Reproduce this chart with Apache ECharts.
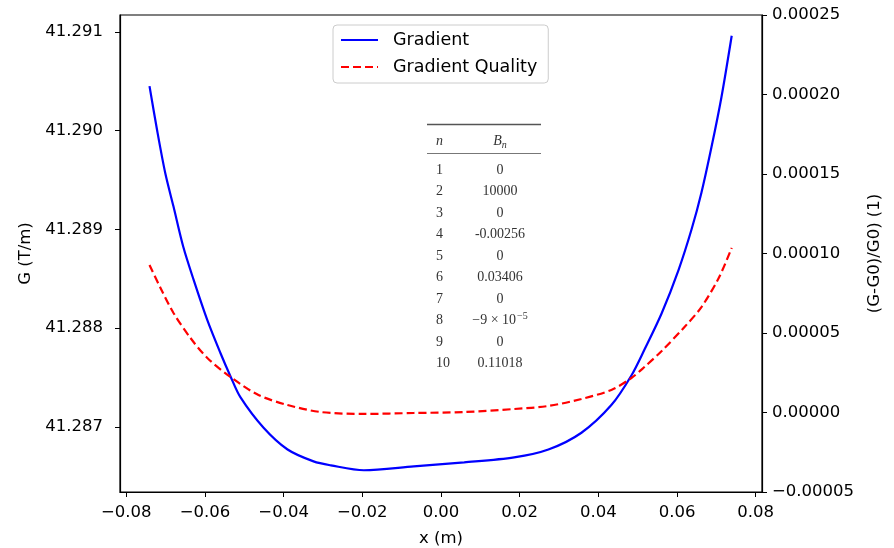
<!DOCTYPE html>
<html>
<head>
  <meta charset="utf-8">
  <script src="https://cdn.jsdelivr.net/npm/echarts@6.0.0/dist/echarts.min.js"></script>
  <style>
    body { margin: 0; background: #fff; }
    #chart { width: 894px; height: 548px; }
  </style>
</head>
<body>
  <div id="chart"></div>
  <script>
    // Gradient G (T/m)
    var xGrad = [-0.0741, -0.0722, -0.0701, -0.0680, -0.0655, -0.0629, -0.0594, -0.0561, -0.0535, -0.0510,
                 -0.0451, -0.0390, -0.0324, -0.0280, -0.0196, -0.0069, 0.0059, 0.0186, 0.0273, 0.0357, 0.0433,
                 0.0484, 0.0517, 0.0561, 0.0604, 0.0637, 0.0662, 0.0688, 0.0713, 0.0739];
    var gGrad = [41.29045, 41.29001, 41.28957, 41.28923, 41.28882, 41.28849, 41.28808, 41.28775, 41.28751, 41.28730,
                 41.28699, 41.28677, 41.28665, 41.28661, 41.28656, 41.28660, 41.28664, 41.28669, 41.28677, 41.28694, 41.28722,
                 41.28752, 41.28778, 41.28815, 41.28859, 41.28900, 41.28937, 41.28984, 41.29034, 41.29096];

    // Gradient quality (G-G0)/G0
    var xQual = [-0.0741, -0.0713, -0.0680, -0.0637, -0.0594, -0.0535, -0.0464, -0.0390, -0.0306, -0.0196, -0.0069,
                 0.0059, 0.0186, 0.0273, 0.0357, 0.0433, 0.0484, 0.0517, 0.0561, 0.0619, 0.0662, 0.0706, 0.0739];
    var qQual = [9.28e-5, 7.83e-5, 6.26e-5, 4.69e-5, 3.43e-5, 2.23e-5, 1.10e-5, 4.7e-6, 3e-7, -9e-7, -3e-7,
                 3e-7, 2.2e-6, 4.1e-6, 8.5e-6, 1.42e-5, 2.17e-5, 2.86e-5, 3.87e-5, 5.38e-5, 6.63e-5, 8.46e-5, 1.035e-4];

    // tick labels
    var xTicks = [-0.08, -0.06, -0.04, -0.02, 0, 0.02, 0.04, 0.06, 0.08];
    var gTicks = [41.287, 41.288, 41.289, 41.290, 41.291];

    // multipole table
    var tableN = ['1', '2', '3', '4', '5', '6', '7', '8', '9', '10'];
    var tableB = ['0', '10000', '0', '-0.00256', '0', '0.03406', '0', '{t|−9 × 10}{s|−5}', '0', '0.11018'];

    function pairs(xs, ys) {
      return xs.map(function (x, i) { return [x, ys[i]]; });
    }
    function minus(s) { return s.replace('-', '−'); }

    var font = 'DejaVu Sans';
    var serif = '"Liberation Serif"';

    // table drawn as graphic elements
    var tableEls = [
      { type: 'line', shape: { x1: 427, y1: 124.5, x2: 541, y2: 124.5 }, style: { stroke: '#555', lineWidth: 1.5 } },
      { type: 'line', shape: { x1: 427, y1: 153.5, x2: 541, y2: 153.5 }, style: { stroke: '#777', lineWidth: 1 } },
      { type: 'text', x: 436, y: 141, style: { text: 'n', font: 'italic 14px ' + serif, fill: '#333', verticalAlign: 'middle' } },
      { type: 'text', x: 500, y: 141, style: {
          text: '{b|B}{s|n}', align: 'center', verticalAlign: 'middle', fill: '#333',
          rich: { b: { font: 'italic 14px ' + serif, fill: '#333' },
                  s: { font: 'italic 10px ' + serif, fill: '#333', padding: [8, 0, 0, 0] } } } }
    ];
    tableN.forEach(function (n, i) {
      var y = 170 + i * 21.5;
      tableEls.push({ type: 'text', x: 436, y: y, style: { text: n, font: '14px ' + serif, fill: '#333', verticalAlign: 'middle' } });
      tableEls.push({ type: 'text', x: 500, y: y, style: {
        text: tableB[i], align: 'center', verticalAlign: 'middle', fill: '#333', font: '14px ' + serif,
        rich: { t: { font: '14px ' + serif, fill: '#333' },
                s: { font: '10px ' + serif, fill: '#333', padding: [0, 0, 8, 1] } } } });
    });

    var chart = echarts.init(document.getElementById('chart'));
    var option = {
      animation: false,
      backgroundColor: '#fff',
      grid: { left: 120, right: 132, top: 15, bottom: 56, show: true, borderColor: '#000', borderWidth: 1.2,
              containLabel: false, outerBoundsMode: 'none' },
      legend: {
        left: 333, top: 25, orient: 'vertical', itemWidth: 37, itemHeight: 14, itemGap: 9,
        padding: [6, 11, 7, 7], borderColor: '#ccc', borderWidth: 1, borderRadius: 4, backgroundColor: '#fff',
        itemStyle: { opacity: 0 },
        textStyle: { fontFamily: font, fontSize: 17.5, color: '#000', padding: [0, 0, 0, 10] },
        data: ['Gradient', 'Gradient Quality']
      },
      xAxis: {
        type: 'value', min: -0.0816, max: 0.0816,
        name: 'x (m)', nameLocation: 'middle', nameGap: 38,
        nameTextStyle: { fontFamily: font, fontSize: 16.5, color: '#000' },
        splitLine: { show: false },
        axisLine: { onZero: false, lineStyle: { color: '#000', width: 1.2 } },
        axisTick: { customValues: xTicks, length: 5, lineStyle: { color: '#000' } },
        axisLabel: { customValues: xTicks, fontFamily: font, fontSize: 16.5, color: '#000', margin: 12,
          formatter: function (v) { return minus(v.toFixed(2)); } }
      },
      yAxis: [
        {
          type: 'value', min: 41.28634, max: 41.29117, position: 'left',
          name: 'G (T/m)', nameLocation: 'middle', nameGap: 84, nameRotate: 90,
          nameTextStyle: { fontFamily: font, fontSize: 16.5, color: '#000' },
          splitLine: { show: false },
          axisLine: { show: true, onZero: false, lineStyle: { color: '#000', width: 1.2 } },
          axisTick: { show: true, customValues: gTicks, length: 5, lineStyle: { color: '#000' } },
          axisLabel: { customValues: gTicks, fontFamily: font, fontSize: 16.5, color: '#000', margin: 17,
            formatter: function (v) { return v.toFixed(3); } }
        },
        {
          type: 'value', min: -0.00005, max: 0.00025, interval: 0.00005, position: 'right',
          name: '(G-G0)/G0) (1)', nameLocation: 'middle', nameGap: 104, nameRotate: 90,
          nameTextStyle: { fontFamily: font, fontSize: 16.5, color: '#000' },
          splitLine: { show: false },
          axisLine: { show: true, onZero: false, lineStyle: { color: '#000', width: 1.2 } },
          axisTick: { show: true, length: 5, lineStyle: { color: '#000' } },
          axisLabel: { fontFamily: font, fontSize: 16.5, color: '#000', margin: 10,
            formatter: function (v) { return minus(v.toFixed(5)); } }
        }
      ],
      graphic: tableEls,
      series: [
        {
          name: 'Gradient', type: 'line', yAxisIndex: 0, data: pairs(xGrad, gGrad),
          smooth: 0.3, smoothConstraint: false, showSymbol: false, symbol: 'none', color: '#0000ff',
          lineStyle: { color: '#0000ff', width: 2.2 }
        },
        {
          name: 'Gradient Quality', type: 'line', yAxisIndex: 1, data: pairs(xQual, qQual),
          smooth: 0.3, smoothConstraint: false, showSymbol: false, symbol: 'none', color: '#ff0000',
          lineStyle: { color: '#ff0000', width: 2.2, type: [8, 4] }
        }
      ]
    };
    chart.setOption(option);
  </script>
</body>
</html>
